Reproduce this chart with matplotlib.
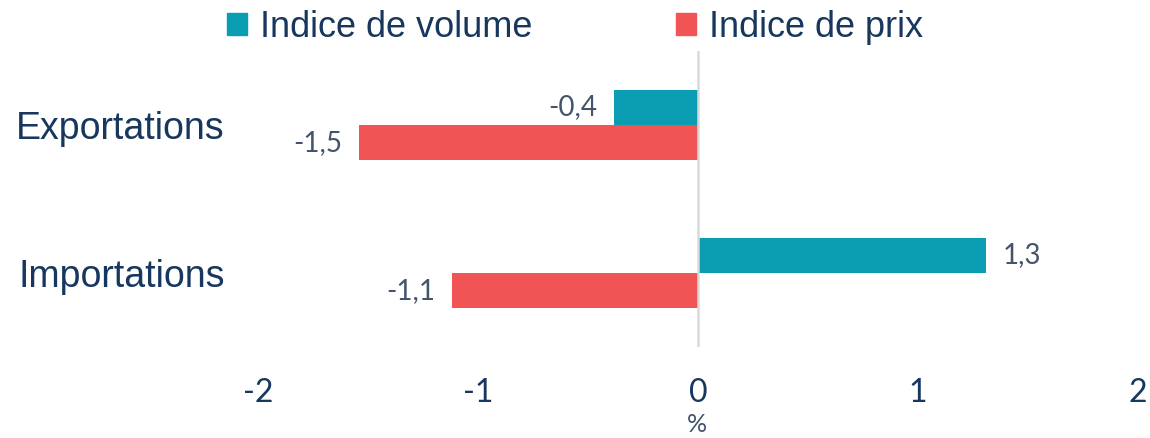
import matplotlib
matplotlib.use("Agg")
import matplotlib.pyplot as plt
from matplotlib.patches import Patch

# data
categories = ["Exportations", "Importations"]
series_names = ["Indice de volume", "Indice de prix"]
volume = [-0.38, 1.31]
prix = [-1.54, -1.12]
xticks = [-2, -1, 0, 1, 2]

TEAL = "#0A9CB0"
RED = "#F05455"
NAVY = "#17375E"
LABEL_GREY = "#44546A"

fig = plt.figure(figsize=(11.5, 4.38), dpi=100)
ax = fig.add_axes([0.2243, 0.2078, 0.7653, 0.6758])

h = 0.238
ypos = list(range(len(categories)))
ax.barh([y - h / 2 for y in ypos], volume, height=h, color=TEAL)
ax.barh([y + h / 2 for y in ypos], prix, height=h, color=RED)

ax.axvline(0, color="#D9D9D9", lw=1.8, zorder=3)

# data labels
for vals, off in ((volume, -h / 2), (prix, h / 2)):
    for y, v in zip(ypos, vals):
        txt = f"{v:.1f}".replace(".", ",")
        ax.annotate(txt, (v, y + off), xytext=(12 if v > 0 else -12, 0),
                    textcoords="offset points", va="center",
                    ha="left" if v > 0 else "right",
                    fontsize=20, color=LABEL_GREY, family="Lato")

ax.set_xlim(-2, 2)
ax.set_ylim(1.5, -0.5)
ax.set_xticks(xticks)
ax.set_xticklabels([str(t) for t in xticks], fontsize=23, color=NAVY, family="Lato")
ax.set_yticks(ypos)
ax.set_yticklabels(categories, fontsize=27, color=NAVY, family="Liberation Sans")
ax.tick_params(axis="x", length=0, pad=22)
ax.tick_params(axis="y", length=0, pad=24)
for s in ax.spines.values():
    s.set_visible(False)

fig.text(0.606, 0.03, "%", ha="center", va="center", fontsize=18,
         color=LABEL_GREY, family="Lato")

handles = [Patch(color=TEAL), Patch(color=RED)]
fig.legend(handles, series_names, loc="center", bbox_to_anchor=(0.5, 0.937),
           ncol=2, frameon=False, handlelength=0.55, handleheight=0.55,
           handletextpad=0.35, columnspacing=4.0,
           prop={"family": "Liberation Sans", "size": 26},
           labelcolor=NAVY)

fig.savefig("out.png", dpi=100)
